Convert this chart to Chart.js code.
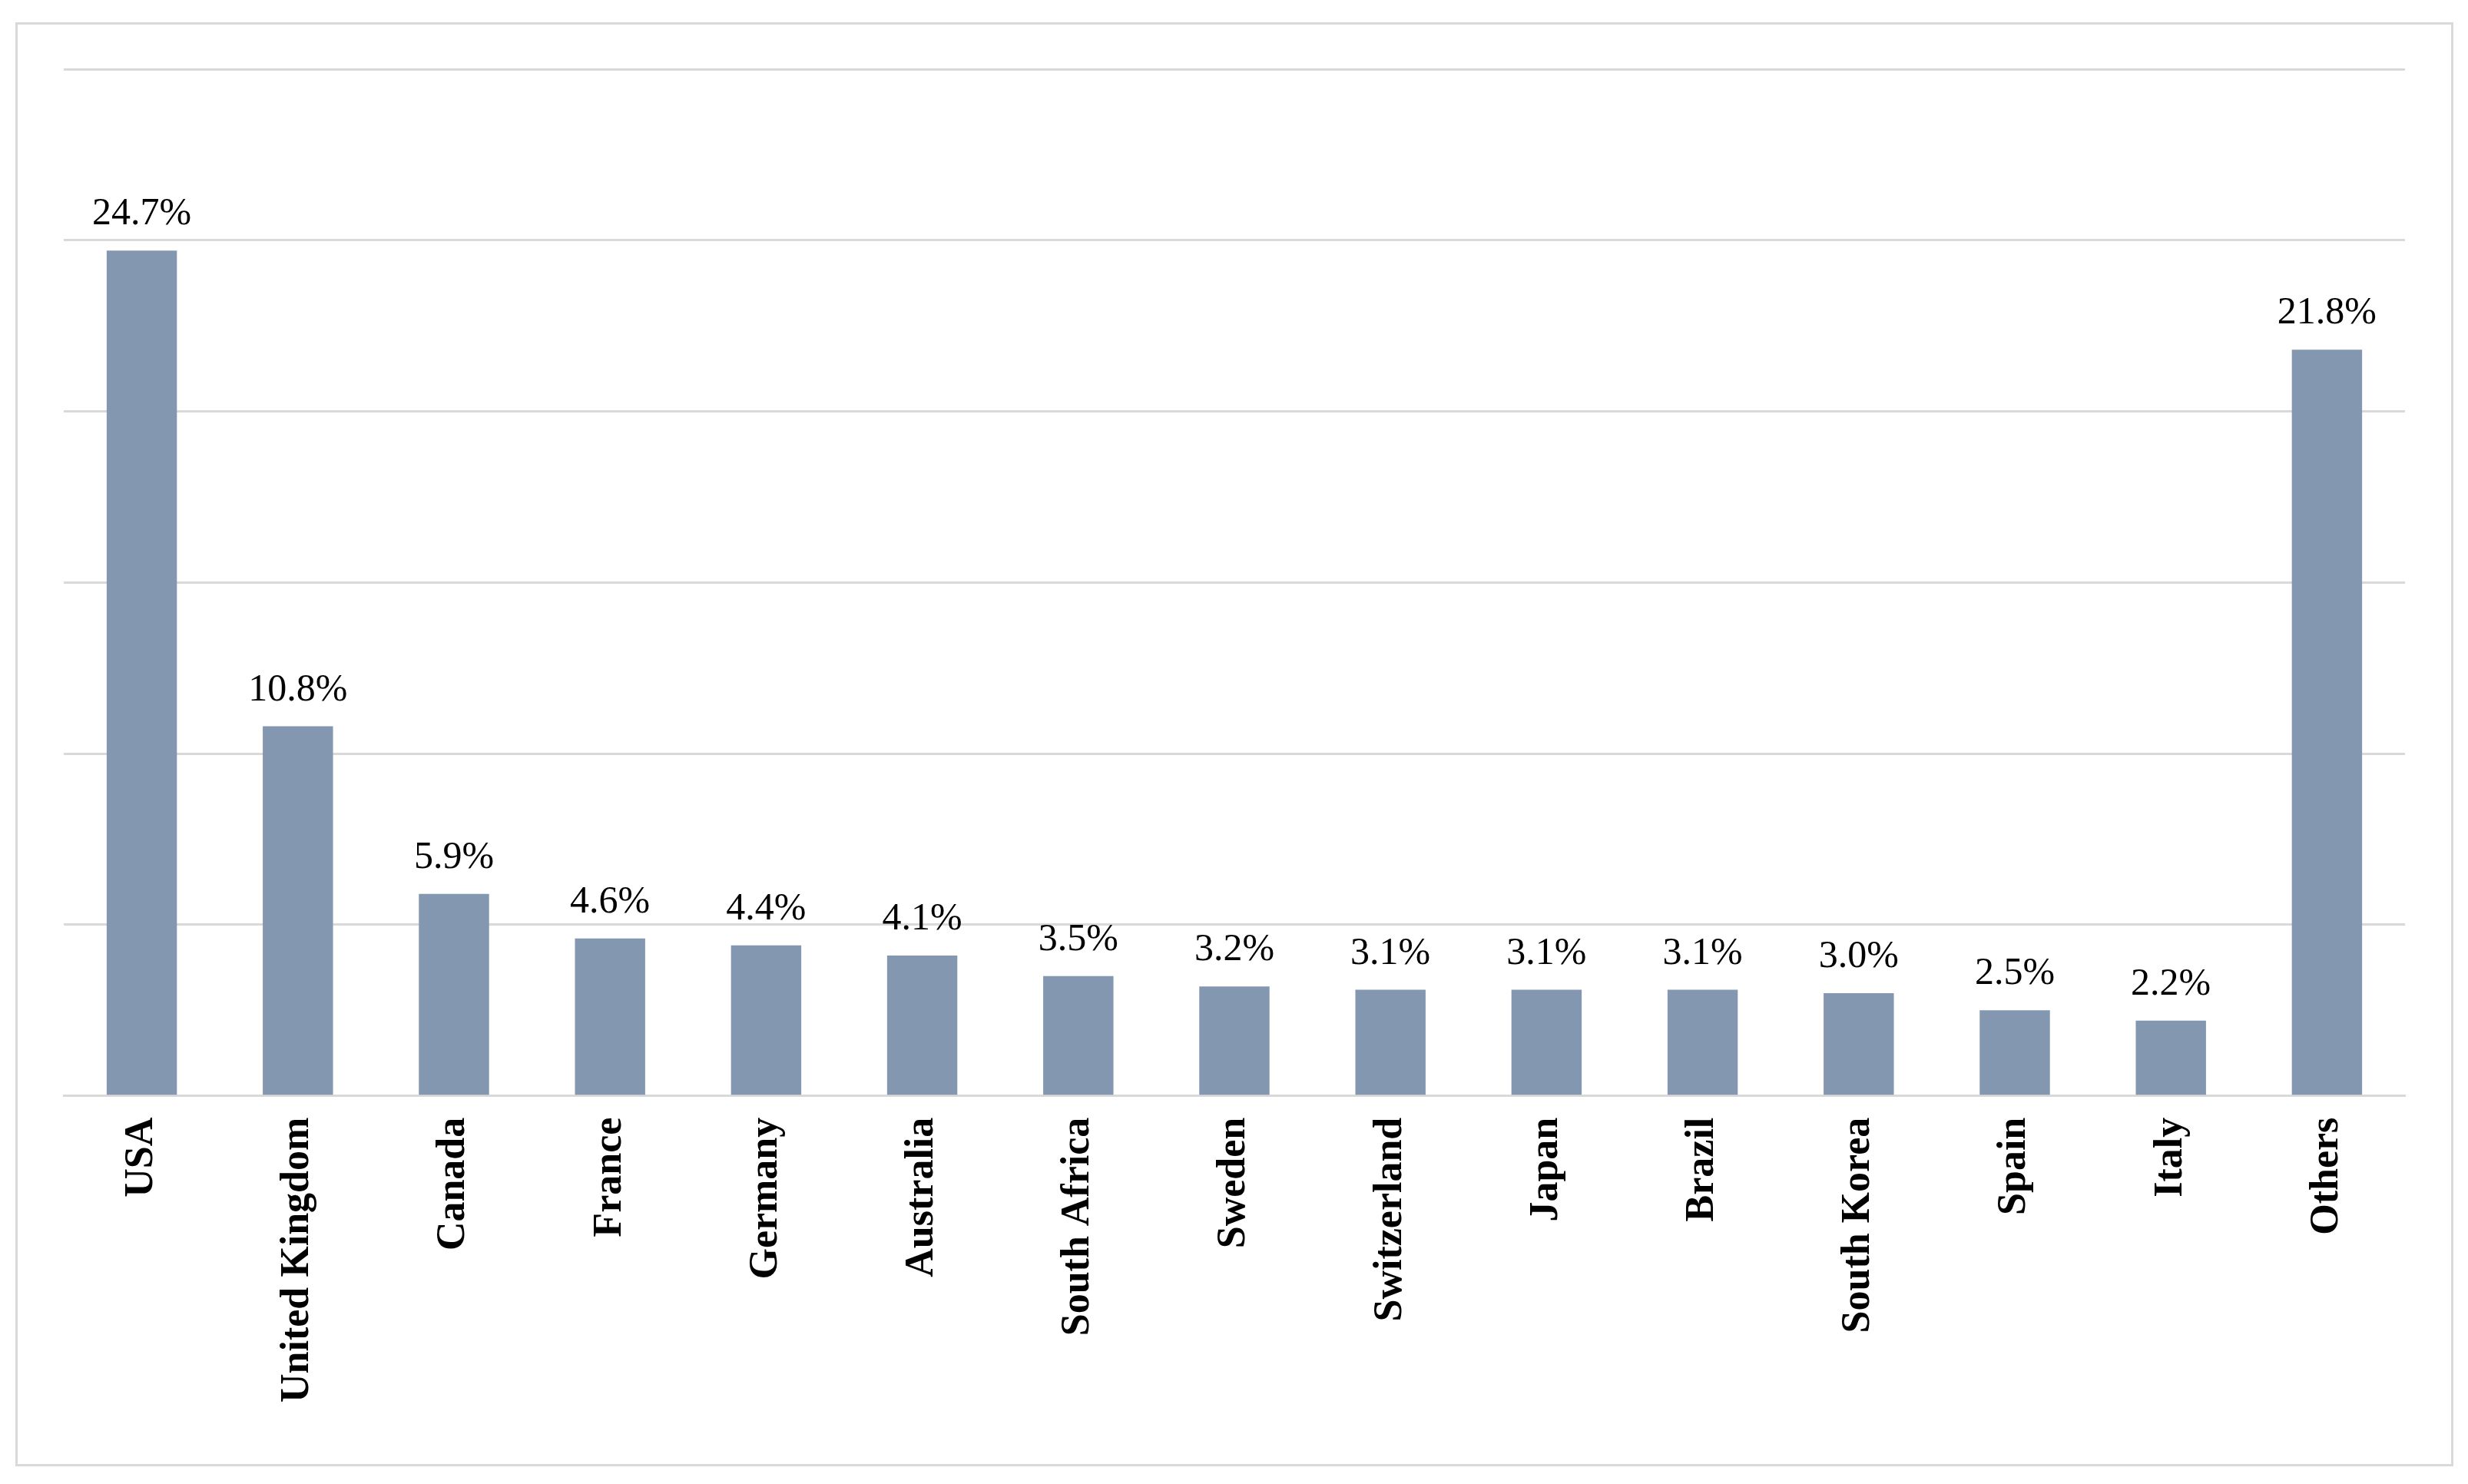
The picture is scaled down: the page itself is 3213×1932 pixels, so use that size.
<!DOCTYPE html>
<html>
<head>
<meta charset="utf-8">
<script src="https://cdn.jsdelivr.net/npm/chart.js@4.4.0/dist/chart.umd.min.js"></script>
<style>
  html, body { margin: 0; padding: 0; background: #fff; }
  #box {
    position: absolute; left: 20px; top: 29px;
    width: 3168px; height: 1874px;
    border: 3px solid #d9d9d9;
  }
</style>
</head>
<body>
<div id="box"><canvas id="chart"></canvas></div>
<script>
const countries = ['USA', 'United Kingdom', 'Canada', 'France', 'Germany', 'Australia', 'South Africa',
    'Sweden', 'Switzerland', 'Japan', 'Brazil', 'South Korea', 'Spain', 'Italy', 'Others'];
const shares = [24.7, 10.8, 5.9, 4.6, 4.4, 4.1, 3.5, 3.2, 3.1, 3.1, 3.1, 3.0, 2.5, 2.2, 21.8];

const barLabels = {
    id: 'barLabels',
    afterDatasetsDraw(chart) {
        const ctx = chart.ctx;
        const meta = chart.getDatasetMeta(0);
        ctx.save();
        ctx.font = '50px "Liberation Serif", "DejaVu Serif", serif';
        ctx.fillStyle = '#000';
        ctx.textAlign = 'center';
        ctx.textBaseline = 'bottom';
        meta.data.forEach((bar, i) => {
            ctx.fillText(shares[i].toFixed(1) + '%', bar.x, bar.y - 22);
        });
        ctx.restore();
    }
};

new Chart(document.getElementById('chart'), {
    type: 'bar',
    data: {
        labels: countries,
        datasets: [{
            data: shares,
            backgroundColor: '#8497b0',
            categoryPercentage: 1,
            barPercentage: 0.45
        }]
    },
    options: {
        responsive: true,
        maintainAspectRatio: false,
        animation: false,
        devicePixelRatio: 1,
        layout: { padding: { left: 60, right: 60, top: 58, bottom: 60 } },
        plugins: { legend: { display: false }, tooltip: { enabled: false } },
        scales: {
            x: {
                grid: { display: false },
                border: { color: '#d9d9d9', width: 3 },
                ticks: {
                    color: '#000',
                    maxRotation: 90, minRotation: 90,
                    padding: 20,
                    font: { family: '"Liberation Serif", "DejaVu Serif", serif', size: 52, weight: 'bold' }
                }
            },
            y: {
                min: 0, max: 30,
                ticks: { display: false, stepSize: 5 },
                grid: { color: '#d9d9d9', lineWidth: 3, drawTicks: false },
                border: { display: false }
            }
        }
    },
    plugins: [barLabels]
});
</script>
</body>
</html>
